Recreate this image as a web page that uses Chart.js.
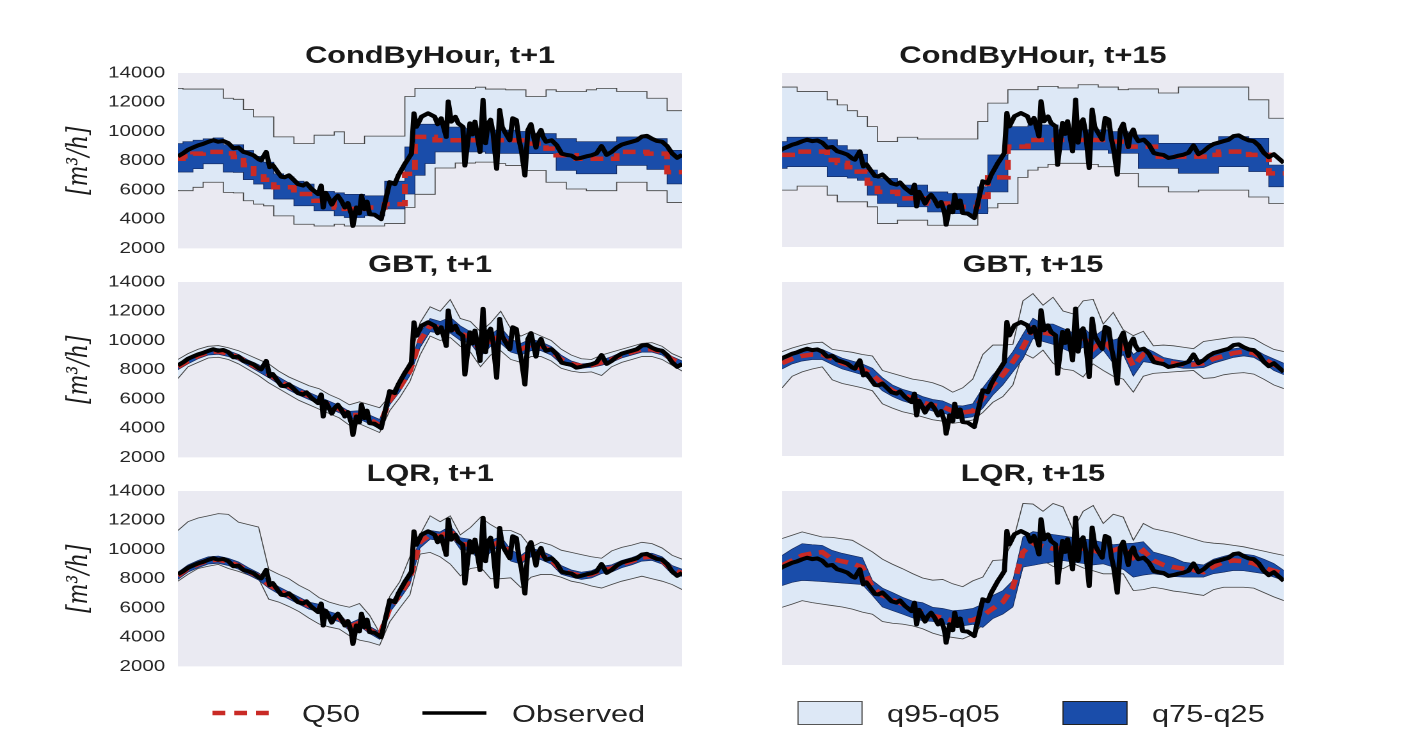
<!DOCTYPE html>
<html>
<head>
<meta charset="utf-8">
<title>Quantile forecasts</title>
<script src="https://cdn.jsdelivr.net/npm/chart.js@4/dist/chart.umd.min.js"></script>
<style>
html, body { margin: 0; padding: 0; background: #fff; overflow: hidden; }
#fig { position: absolute; left: 0; top: 0; width: 1115px; height: 739px; transform: scaleX(1.28); transform-origin: 0 0; }
#fig canvas { position: absolute; }
.lg { position: absolute; top: 700px; height: 28px; line-height: 28px; font: 24px "Liberation Sans", Arial, sans-serif; color: #222; white-space: nowrap; }
</style>
</head>
<body>
<div id="fig">
  <canvas id="c1" width="533" height="226" style="left:0px;top:42px"></canvas>
  <canvas id="c2" width="392" height="217" style="left:611px;top:42px"></canvas>
  <canvas id="c3" width="533" height="226" style="left:0px;top:251px"></canvas>
  <canvas id="c4" width="392" height="217" style="left:611px;top:251px"></canvas>
  <canvas id="c5" width="533" height="226" style="left:0px;top:460px"></canvas>
  <canvas id="c6" width="392" height="217" style="left:611px;top:460px"></canvas>

  <svg style="position:absolute;left:0;top:690px" width="1115" height="50">
    <line x1="166" y1="23" x2="214" y2="23" stroke="#C92A25" stroke-width="4.5" stroke-dasharray="10 7"/>
    <line x1="330" y1="23" x2="380" y2="23" stroke="#000" stroke-width="3.5"/>
    <rect x="623.5" y="11.5" width="50" height="23" fill="#DDE8F6" stroke="#555" stroke-width="1"/>
    <rect x="830.5" y="11.5" width="50" height="23" fill="#1A4DAA" stroke="#222" stroke-width="1"/>
  </svg>
  <div class="lg" style="left:236px">Q50</div>
  <div class="lg" style="left:400px">Observed</div>
  <div class="lg" style="left:693px">q95-q05</div>
  <div class="lg" style="left:900px">q75-q25</div>
</div>

<script>
// 観測値 (x は時間インデックス、左パネルは 0-100、右パネルは 2-102 を表示)
const obsX = [
    0, 1, 2, 3, 4, 5, 6, 7, 8, 9, 10, 11, 12, 13, 14, 15, 16, 16.5, 17.5, 18.2,
    18.8, 19.8, 20.5, 21.2, 22, 23.1, 23.8, 24.8, 25.5, 26.5, 27.8, 28.4, 28.8, 29.3, 29.8,
    30.5, 31.1, 31.7, 32.4, 33.1, 33.7, 34.4, 34.7, 35.4, 36, 36.4, 37, 37.5, 38, 39,
    40.3, 42, 43, 43.7, 45, 45.6, 46.3, 46.8, 47.3, 48.3, 49.6, 50.9, 51.5, 52.2, 53.2,
    53.6, 54.2, 55, 55.6, 56.5, 56.9, 57.9, 58.4, 58.9, 59.9, 60.5, 61, 61.5, 62, 62.5,
    63.2, 63.8, 64.3, 64.8, 65.8, 66.4, 67.1, 67.6, 68.1, 68.8, 69.4, 70, 70.4, 71, 71.4,
    72, 72.4, 73, 74.1, 75.1, 76.1, 77, 78, 79, 80, 81, 82, 83, 84, 85,
    86, 87, 88, 89, 90, 91, 92, 93, 94, 95, 96, 97, 98, 99, 100, 101, 102
];
const obsY = [
    8300, 8500, 8750, 8900, 9050, 9150, 9290, 9400, 9300, 9350, 9200, 8850, 8900, 8600, 8500, 8370, 8100, 8020, 8600, 7560,
    7700, 7220, 6900, 6870, 7000, 6640, 6400, 6300, 6450, 6070, 5720, 6300, 4800, 5800, 5490,
    5000, 5380, 5600, 5260, 4800, 5100, 4340, 3540, 4800, 4400, 5600, 4690, 5200, 4340, 4300,
    4000, 6530, 6400, 6990, 7790, 8100, 8480, 11240, 10320, 11010, 11240, 11010, 10500, 10900, 9630,
    12050, 10670, 11000, 10550, 10320, 7670, 10550, 9800, 10670, 8600, 12160, 9200, 10550, 10800, 9860,
    7450, 11470, 10300, 9980, 9400, 10900, 10780, 9500, 8710, 6990, 10090, 10500, 9860, 8900, 9750,
    10100, 9630, 9300, 9400, 9060, 8480, 8400, 8350, 8140, 8200, 8300, 8370, 8500, 9000, 8400,
    8600, 8900, 9100, 9200, 9300, 9400, 9650, 9700, 9500, 9350, 9300, 9000, 8500, 8200, 8400, 8100, 7800
];

// 分位点 (2 ステップ毎、51 点)
// CondByHour, t+1
const cbh1_q95 = [12950,12900,12900,12900,12900,12275,12200,11500,11000,11000, 9630,9630,9170,9170,9745,9745,9975,9170,9170,9680, 9680,9680,9680,12390,12950,12950,12950,12950,12950,12950, 13030,12900,12900,12850,12850,12390,12390,12850,12735,12735, 12735,12850,12950,12950,12735,12735,12735,12275,12275,11420,11420];
const cbh1_q75 = [9170,9300,9400,9500,9560,9100,9100,8700,8300,7900, 7100,6900,6600,6400,5900,5900,5800,5700,5700,5600, 5600,6600,6600,8940,10500,10500,10500,10300,10300,10200, 10200,10100,10100,10100,10000,9860,9860,9860,9515,9515, 9300,9300,9300,9300,9630,9630,9630,9515,9515,8710,8710];
const cbh1_q50 = [8135,8300,8480,8600,8600,8500,8250,7700,7100,6700, 6180,6180,5720,5720,5260,5260,4800,4700,4700,4800, 4800,5030,5030,7100,9630,9630,9400,9400,9400,9400, 9400,9400,9400,9400,9400,9170,9170,8830,8370,8370, 8135,8135,8135,8135,8600,8600,8600,8480,8480,7220,7220];
const cbh1_q25 = [7220,7220,7450,7790,7790,7220,7200,6700,6400,6065, 5375,5375,4915,4915,4570,4570,4225,4110,4110,4225, 4225,4700,4700,5720,7000,7800,8600,8600,8600,8600, 8600,8500,8500,8500,8500,8480,8480,8480,7330,7330, 7100,7100,7100,7100,7675,7675,7675,7400,7400,6410,6410];
const cbh1_q05 = [5950,5950,6180,6525,6525,5835,5800,5260,5030,4915, 4225,4225,3650,3650,3535,3535,3650,3535,3535,3535, 3535,3700,3700,4800,5700,5700,7500,7500,7840,7840, 7900,7900,7800,7675,7675,7330,7330,6525,6525,6065, 6065,5950,5950,5950,6525,6525,6525,5950,5950,5145,5145];

// CondByHour, t+15
const cbh15_q95 = [13030,13030,12730,12730,12730,12150,11800,11400,11000,10300, 9270,9270,9570,9570,9450,9450,9450,9450,9450,9450, 10650,11920,11920,12850,12850,12850,13080,13080,12970,12970, 13190,13190,13030,13030,12850,12900,12900,12900,12620,12620, 13030,13030,13030,13030,13030,13030,13030,12150,12150,10880,10880];
const cbh15_q75 = [9270,9570,9570,9570,9570,9400,9000,8700,8400,7310, 6730,6730,6270,6270,6270,5800,5800,5690,5690,5690, 6150,8350,8350,10300,10300,10420,10420,10420,10080,10080, 10080,10080,10080,9960,9960,9730,9730,9730,9150,9150, 9150,9150,9150,9150,9620,9620,9620,9500,9500,7650,7650];
const cbh15_q50 = [8350,8350,8580,8580,8580,8000,7800,7500,7200,6380, 5800,5800,5350,5350,5350,5000,5000,4770,4770,4770, 5460,6800,6800,8920,8920,9380,9380,9380,9380,9380, 9380,9380,9380,9270,9270,8920,8920,8920,8230,8230, 8230,8230,8230,8350,8580,8580,8580,8350,8350,7080,7080];
const cbh15_q25 = [7420,7540,7540,7540,7540,6850,6850,6750,6600,5575, 5000,5000,4770,4770,4770,4420,4420,4300,4300,4300, 4300,5800,5800,8690,8690,8690,8690,8690,8690,8690, 8690,8690,8690,8460,8460,8460,7420,7420,7420,7420, 7080,7080,7080,7080,7540,7540,7540,7200,7200,6150,6150];
const cbh15_q05 = [5920,5920,6200,6200,6200,5575,5115,5115,5115,4770, 3615,3615,3850,3850,3850,3500,3500,3500,3500,3500, 4420,4700,5000,5000,6800,7300,7500,7700,7770,7770, 7770,7700,7540,7540,7080,7080,6150,6150,6150,5800, 5800,5800,5920,5920,5920,5920,5920,5450,5450,5000,5000];

// GBT, t+1
const gbt1_q95 = [8700,9100,9400,9600,9650,9500,9300,9000,8700,8400, 7900,7500,7200,6900,6700,6300,6000,5600,5800,5600, 5400,6200,7400,8600,11200,12300,12000,12800,11500,11300, 10600,11200,12000,10800,10300,10600,10300,10000,9400,9000, 8750,8700,9000,9200,9400,9600,9800,9850,9600,9100,8800];
const gbt1_q75 = [8400,8800,9150,9400,9450,9300,9050,8650,8350,7950, 7500,7100,6750,6450,6150,5850,5550,5150,5200,4900, 4600,6200,7100,8200,10500,11500,11300,11600,11000,10600, 9800,10400,10900,10100,9800,10100,9900,9600,9000,8600, 8400,8450,8650,8900,9200,9400,9600,9600,9400,8900,8600];
const gbt1_q50 = [8200,8600,8950,9200,9250,9100,8850,8450,8100,7700, 7250,6850,6500,6200,5900,5600,5300,4900,4900,4600, 4200,5900,6800,7900,10000,11000,10900,11000,10500,10200, 9300,10000,10300,9600,9400,9700,9600,9300,8700,8400, 8250,8300,8500,8700,9000,9200,9400,9400,9200,8700,8400];
const gbt1_q25 = [8000,8400,8750,9000,9050,8900,8650,8250,7850,7450, 7000,6600,6250,5950,5650,5350,5050,4650,4600,4300, 3950,5600,6500,7600,9500,10600,10500,10500,10000,9800, 8900,9600,9800,9200,9000,9300,9300,9000,8400,8200, 8100,8150,8300,8500,8800,9000,9200,9200,9000,8500,8200];
const gbt1_q05 = [7400,8200,8500,8800,8850,8700,8400,8000,7600,7100, 6700,6300,5900,5600,5300,5000,4700,4200,4300,4000, 3700,5200,6100,7200,9000,10300,10000,10200,9600,9200, 8200,9000,9300,8700,8500,8900,8900,8600,8100,7900, 7800,7850,7600,8200,8500,8700,8900,8900,8700,8300,7900];

// GBT, t+15
const gbt15_q95 = [9200,9450,9650,9800,9850,9350,9250,9150,9000,8900, 7900,7700,7500,7300,7200,7050,6800,6400,6700,7300, 9000,9650,9650,9700,12700,13200,12400,12950,12000,11800, 12700,12800,11100,11900,10700,10300,10600,9600,9650,9600, 9500,9400,9900,10000,10100,10200,10200,10100,9700,9350,9200];
const gbt15_q75 = [8800,9000,9200,9300,9350,9050,8750,8550,8350,8050, 7400,6900,6600,6400,6100,5900,5800,5500,5450,5600, 6700,7600,8300,9200,10400,11500,11100,11100,10800,10500, 10900,10200,10700,10000,10200,9000,9500,9200,8800,8650, 8550,8550,8700,9000,9200,9400,9500,9400,9000,8700,8400];
const gbt15_q50 = [8400,8700,8900,9000,9000,8700,8400,8200,8000,7600, 7000,6500,6200,6000,5700,5500,5400,5100,5000,5100, 6000,6900,7600,8500,9500,10800,10500,10400,10100,9800, 10200,9400,10000,9200,9600,8200,9000,8800,8500,8400, 8300,8300,8400,8700,8900,9100,9200,9100,8700,8300,8000];
const gbt15_q25 = [8000,8350,8550,8650,8650,8300,8000,7800,7600,7150, 6500,6100,5800,5600,5300,5100,5000,4700,4600,4700, 5300,6200,6900,7800,8700,10100,9900,9700,9400,9100, 9500,8700,9300,8400,9000,7500,8500,8400,8200,8150, 8050,8050,8100,8400,8600,8800,8900,8800,8400,7900,7600];
const gbt15_q05 = [6700,7500,7800,8000,8150,7250,7000,6850,6700,6500, 5600,5300,5050,4900,4700,4500,4400,4250,4350,4480, 5000,5700,6100,6900,9100,8750,9300,8400,8000,7900, 7450,8350,7900,7500,7300,6400,7500,7700,7750,7800, 7850,7900,7350,7400,7600,7700,7750,7650,7300,6900,6650];

// LQR, t+1
const lqr1_q95 = [11300,11900,12150,12300,12450,12400,11870,11700,11530,8640, 8300,8000,7550,7200,6700,6400,6200,6050,6300,5500, 4300,6790,7800,9500,11000,12300,11900,12300,11000,11500, 12200,11700,11300,11300,11000,10140,10500,10300,9950,9800, 9650,9500,9400,9900,10140,10300,10490,10400,10100,9600,9330];
const lqr1_q75 = [8450,8950,9250,9500,9550,9400,9150,8750,8400,7850, 7450,7100,6750,6400,6250,5750,5550,4950,5250,4750, 4350,6300,7200,8400,10900,11300,11200,11600,10800,10700, 10000,10600,10900,10000,9600,10100,9900,9600,8900,8600, 8450,8550,8850,8950,9250,9450,9700,9750,9500,8900,8650];
const lqr1_q50 = [8200,8700,9000,9250,9300,9150,8900,8500,8150,7600, 7200,6850,6500,6150,6000,5500,5300,4700,5000,4500, 4100,6000,6900,8000,10500,11000,10900,11300,10400,10300, 9600,10200,10600,9600,9300,9800,9600,9300,8600,8350, 8200,8300,8600,8700,9000,9200,9450,9500,9250,8600,8400];
const lqr1_q25 = [7950,8450,8750,9000,9050,8900,8650,8250,7900,7350, 6950,6600,6250,5900,5750,5250,5050,4450,4750,4250, 3850,5700,6600,7600,10100,10700,10600,11000,10000,9900, 9200,9800,10300,9200,9000,9500,9300,9000,8300,8100, 7950,8050,8350,8450,8750,8950,9200,9250,9000,8300,8150];
const lqr1_q05 = [7830,8300,8700,8850,8980,8700,8500,8250,8000,6600, 6400,6100,5750,5300,4900,4700,4550,4100,3800,3660, 3450,5050,6000,6900,9680,9800,9500,9000,8200,8700, 8800,8000,8000,8060,7400,8100,8290,8290,8100,7830, 7700,7500,7360,7600,7830,8000,8170,8000,7830,7600,7250];

// LQR, t+15
const lqr15_q95 = [10720,10950,11180,11000,10830,10800,10700,10600,10200,9800, 9300,8950,8640,8300,8000,7850,7900,7600,7400,7800, 8060,9210,9250,10500,13140,13100,12600,13140,12900,11300, 12600,13000,11760,12400,12200,10600,11760,11400,11250,11100, 10900,10700,10490,10400,10350,10250,10150,10000,9850,9700,9560];
const lqr15_q75 = [9560,10000,10370,10300,10250,9900,9700,9550,9400,7830, 7300,7000,6670,6400,6300,5980,5900,5750,5800,5900, 6210,6800,7130,7830,10830,11200,11100,11000,10900,10800, 10700,10600,10450,10300,10370,10400,10500,9790,9600,9400, 9100,9000,8900,9300,9500,9680,9650,9560,9300,9000,8520];
const lqr15_q50 = [8870,9200,9560,9700,9790,9300,9150,9000,8750,7360, 6800,6500,6210,5900,5630,5400,5250,5050,5000,5100, 5400,5900,6330,7360,9790,10370,10200,10020,10100,10000, 10020,9900,9680,9900,10140,9400,9900,9210,8900,8750, 8640,8550,8400,8800,9100,9210,9150,9000,8700,8500,8290];
const lqr15_q25 = [7480,7700,7830,7800,7750,7700,7650,7600,7550,6800, 6000,5750,5510,5250,5050,5000,4850,4710,4700,4800, 4590,5200,5510,6000,8750,8870,9000,9100,9200,9100, 9000,8900,8980,8750,8600,8060,8200,8290,8200,8100, 8060,8060,8060,8300,8400,8520,8500,8400,8300,8060,7830];
const lqr15_q05 = [5980,6200,6440,6300,6200,6100,6000,5850,5650,5500, 5000,4880,4820,4700,4500,4200,4000,3900,3800,4100, 4800,5300,5750,6210,8750,8980,9210,8800,8640,9000, 8700,8500,8290,8290,8290,7130,7200,7360,7250,7100, 7020,6900,6800,7200,7360,7360,7360,7300,7000,6700,6440];

const yTicks = [2000, 4000, 6000, 8000, 10000, 12000, 14000];

const panels = [
    { id: "c1", title: "CondByHour, t+1", left: true, stepped: true, q: [cbh1_q95, cbh1_q05, cbh1_q75, cbh1_q25, cbh1_q50] },
    { id: "c2", title: "CondByHour, t+15", left: false, stepped: true, q: [cbh15_q95, cbh15_q05, cbh15_q75, cbh15_q25, cbh15_q50] },
    { id: "c3", title: "GBT, t+1", left: true, stepped: false, q: [gbt1_q95, gbt1_q05, gbt1_q75, gbt1_q25, gbt1_q50] },
    { id: "c4", title: "GBT, t+15", left: false, stepped: false, q: [gbt15_q95, gbt15_q05, gbt15_q75, gbt15_q25, gbt15_q50] },
    { id: "c5", title: "LQR, t+1", left: true, stepped: false, q: [lqr1_q95, lqr1_q05, lqr1_q75, lqr1_q25, lqr1_q50] },
    { id: "c6", title: "LQR, t+15", left: false, stepped: false, q: [lqr15_q95, lqr15_q05, lqr15_q75, lqr15_q25, lqr15_q50] },
];

const LIGHT = "#DDE8F6";
const DARK = "#1A4DAA";
const RED = "#C92A25";

// 描画領域の背景色
const plotBg = {
    id: "plotBg",
    beforeDraw(chart) {
        const { ctx, chartArea: a } = chart;
        ctx.save();
        ctx.fillStyle = "#EAEAF2";
        ctx.fillRect(a.left, a.top, a.width, a.height);
        ctx.restore();
    },
};

function toPoints(start, values) {
    return values.map((v, k) => ({ x: start + 2 * k, y: v }));
}

function drawPanel(p) {
    const x0 = p.left ? 0 : 2;
    const st = p.stepped ? "middle" : false;
    const [q95, q05, q75, q25, q50] = p.q;
    const common = { pointRadius: 0, pointHoverRadius: 0, tension: 0, clip: 0 };

    const datasets = [
        { ...common, label: "Observed", data: obsY.map((v, i) => ({ x: obsX[i], y: v })), borderColor: "#000", borderWidth: 4, borderJoinStyle: "round", fill: false, order: 0 },
        { ...common, label: "Q50", data: toPoints(x0, q50), borderColor: RED, borderWidth: 4.5, borderDash: [10, 6], stepped: st, fill: false, order: 1 },
        { ...common, label: "q95", data: toPoints(x0, q95), borderColor: "#444", borderWidth: 0.8, backgroundColor: LIGHT, fill: "+1", stepped: st, order: 5 },
        { ...common, label: "q05", data: toPoints(x0, q05), borderColor: "#444", borderWidth: 0.8, fill: false, stepped: st, order: 4 },
        { ...common, label: "q75", data: toPoints(x0, q75), borderColor: "#14285a", borderWidth: 0.6, backgroundColor: DARK, fill: "+1", stepped: st, order: 3 },
        { ...common, label: "q25", data: toPoints(x0, q25), borderColor: "#14285a", borderWidth: 0.6, fill: false, stepped: st, order: 2 },
    ];

    new Chart(document.getElementById(p.id), {
        type: "line",
        data: { datasets },
        plugins: [plotBg],
        options: {
            responsive: false,
            animation: false,
            devicePixelRatio: 2,
            events: [],
            layout: { autoPadding: false, padding: { left: 0, right: 0, top: 0, bottom: p.left ? 2.4 : 12 } },
            plugins: {
                legend: { display: false },
                tooltip: { enabled: false },
                title: {
                    display: true,
                    text: p.title,
                    fullSize: false,
                    color: "#1a1a1a",
                    font: { family: "Liberation Sans", size: 24, weight: "bold", lineHeight: 1.2 },
                    padding: { top: 0, bottom: 2.2 },
                },
            },
            scales: {
                x: { type: "linear", display: false, min: x0, max: x0 + 100 },
                y: {
                    display: p.left,
                    min: yTicks[0],
                    max: yTicks[yTicks.length - 1],
                    afterFit(s) { if (p.left) s.width = 139; },
                    afterBuildTicks(s) { s.ticks = yTicks.map((v) => ({ value: v })); },
                    border: { display: false },
                    grid: { display: false, drawTicks: false },
                    ticks: {
                        padding: 10,
                        color: "#262626",
                        font: { family: "Liberation Sans", size: 16 },
                        callback: (v) => String(v),
                    },
                    title: {
                        display: true,
                        text: "[m³/h]",
                        color: "#1a1a1a",
                        font: { family: "DejaVu Serif", style: "italic", size: 22, lineHeight: 1.2 },
                        padding: { top: 49, bottom: 0 },
                    },
                },
            },
        },
    });
}

window.onload = function () {
    panels.forEach(drawPanel);
};
</script>
</body>
</html>
